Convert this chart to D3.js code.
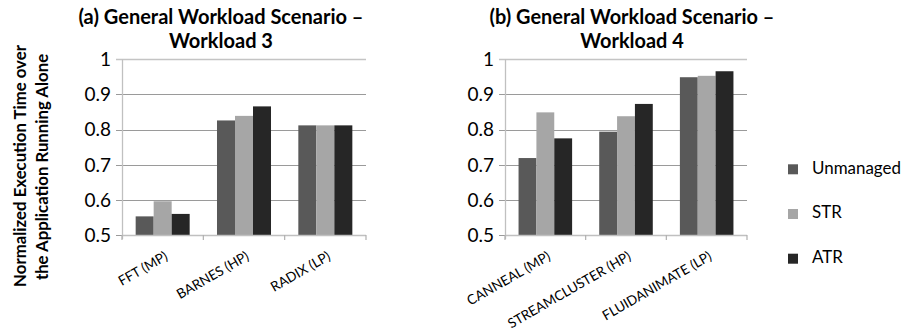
<!DOCTYPE html>
<html>
<head>
<meta charset="utf-8">
<script src="https://cdn.jsdelivr.net/npm/d3@7"></script>
<style>
  html, body { margin: 0; padding: 0; background: #fff; }
  svg { display: block; font-family: Lato, "Open Sans", sans-serif; }
</style>
</head>
<body>
<svg id="chart" width="905" height="333"></svg>
<script>
// ---- data ----
const series = ["Unmanaged", "STR", "ATR"];
const seriesColors = ["#595959", "#a6a6a6", "#262626"];
const categoriesA = ["FFT (MP)", "BARNES (HP)", "RADIX (LP)"];
const unmanagedA = [0.553, 0.826, 0.812];
const strA       = [0.596, 0.839, 0.812];
const atrA       = [0.560, 0.866, 0.812];
const categoriesB = ["CANNEAL (MP)", "STREAMCLUSTER (HP)", "FLUIDANIMATE (LP)"];
const unmanagedB = [0.719, 0.794, 0.949];
const strB       = [0.849, 0.838, 0.953];
const atrB       = [0.775, 0.873, 0.966];
const yTicks = [0.5, 0.6, 0.7, 0.8, 0.9, 1];
const yTickLabels = ["0.5", "0.6", "0.7", "0.8", "0.9", "1"];
const titleA = ["(a) General Workload Scenario \u2013", "Workload 3"];
const titleB = ["(b) General Workload Scenario \u2013", "Workload 4"];
const yTitle = ["Normalized Execution Time over", "the Application Running Alone"];

// ---- layout ----
const svg = d3.select("#chart");
const plotTop = 59.3, plotBottom = 235;
const y = d3.scaleLinear().domain([0.5, 1]).range([plotBottom, plotTop]);

function fit(sel, w) {
  const node = sel.node();
  const fs = parseFloat(sel.attr("font-size"));
  const cur = node.getComputedTextLength();
  sel.attr("font-size", (fs * w / cur).toFixed(2));
}

function panel(cats, vals, x0, x1, title, titleCx) {
  const g = svg.append("g");
  const x = d3.scaleBand().domain(cats).range([x0, x1]).paddingInner(0.336).paddingOuter(0.168);
  const xs = d3.scaleBand().domain(series).range([0, x.bandwidth()]);

  // gridlines
  g.selectAll("line.grid").data(yTicks).join("line")
    .attr("x1", x0 - 6).attr("x2", x1)
    .attr("y1", d => Math.round(y(d)) + 0.5).attr("y2", d => Math.round(y(d)) + 0.5)
    .attr("stroke", d => d === 1 ? "#c4c4c4" : "#9a9a9a")
    .attr("stroke-width", d => d === 1 ? 1.6 : 1.1);

  // y tick labels
  g.selectAll("text.yt").data(yTicks).join("text")
    .attr("x", x0 - 11).attr("y", d => y(d) + 2)
    .attr("text-anchor", "end").attr("dominant-baseline", "middle")
    .attr("font-size", 19).attr("fill", "#000")
    .text((d, i) => yTickLabels[i]);

  // bars
  const grp = g.selectAll("g.cat").data(cats).join("g")
    .attr("transform", d => `translate(${x(d)},0)`);
  grp.selectAll("rect").data((d, i) => series.map((s, j) => ({s, v: vals[j][i]})))
    .join("rect")
    .attr("x", d => xs(d.s)).attr("width", xs.bandwidth())
    .attr("y", d => y(d.v)).attr("height", d => y(0.5) - y(d.v))
    .attr("fill", (d, j) => seriesColors[j]);

  // axes
  g.append("line").attr("x1", x0 + 0.5).attr("x2", x0 + 0.5).attr("y1", plotTop).attr("y2", plotBottom + 4)
    .attr("stroke", "#c0c0c0").attr("stroke-width", 1.3);
  g.append("line").attr("x1", x0).attr("x2", x1).attr("y1", plotBottom + 0.5).attr("y2", plotBottom + 0.5)
    .attr("stroke", "#c0c0c0").attr("stroke-width", 1.3);
  const step = x.step();
  const tickXs = d3.range(cats.length + 1).map(i => x0 + i * step);
  g.selectAll("line.xt").data(tickXs).join("line")
    .attr("x1", d => d).attr("x2", d => d).attr("y1", plotBottom).attr("y2", plotBottom + 5)
    .attr("stroke", "#b0b0b0").attr("stroke-width", 1.2);

  // x labels
  g.selectAll("text.xl").data(cats).join("text")
    .attr("text-anchor", "end")
    .attr("font-size", 13.5).attr("fill", "#000")
    .attr("transform", d => `translate(${x(d) + x.bandwidth() / 2 + 6},${plotBottom + 24}) rotate(-30)`)
    .text(d => d);

  // title
  const t1 = g.append("text").attr("x", titleCx).attr("y", 24).attr("text-anchor", "middle")
    .attr("font-weight", "bold").attr("font-size", 18).text(title[0]);
  fit(t1, 285);
  g.append("text").attr("x", titleCx).attr("y", 48).attr("text-anchor", "middle")
    .attr("font-weight", "bold").attr("font-size", t1.attr("font-size")).text(title[1]);
}

panel(categoriesA, [unmanagedA, strA, atrA], 122, 366, titleA, 221);
panel(categoriesB, [unmanagedB, strB, atrB], 505, 747, titleB, 632);

// y axis title
const yt1 = svg.append("text").attr("transform", "translate(25.5,166) rotate(-90)")
  .attr("text-anchor", "middle").attr("font-weight", "bold").attr("font-size", 15).text(yTitle[0]);
fit(yt1, 242);
svg.append("text").attr("transform", "translate(47.5,167) rotate(-90)")
  .attr("text-anchor", "middle").attr("font-weight", "bold").attr("font-size", yt1.attr("font-size")).text(yTitle[1]);

// legend
const legY = d3.scalePoint().domain(series).range([169.3, 258.7]);
const lg = svg.append("g");
lg.selectAll("rect").data(series).join("rect")
  .attr("x", 788).attr("y", d => legY(d) - 5).attr("width", 10).attr("height", 10)
  .attr("fill", (d, i) => seriesColors[i]);
const lt = lg.selectAll("text").data(series).join("text")
  .attr("x", 812).attr("y", d => legY(d)).attr("dominant-baseline", "middle")
  .attr("font-size", 17).attr("fill", "#000").text(d => d);
fit(d3.select(lt.nodes()[0]), 89);
lt.attr("font-size", d3.select(lt.nodes()[0]).attr("font-size"));
</script>
</body>
</html>
